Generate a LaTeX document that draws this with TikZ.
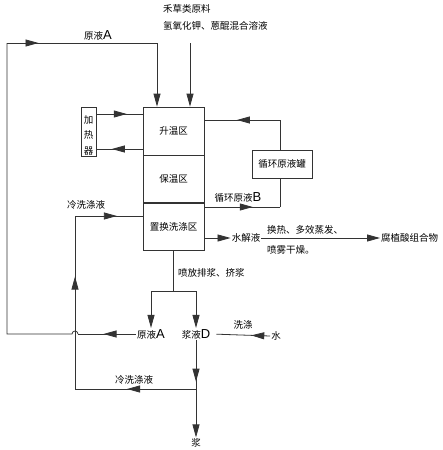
\documentclass[tikz,border=0pt]{standalone}
\usepackage{fontspec}
\setmainfont{Noto Sans CJK SC}
\newfontfamily\latinf{Liberation Sans}
\usetikzlibrary{arrows.meta,decorations.markings}
\newcommand{\LL}[1]{{\latinf\fontsize{13}{13}\selectfont #1}}
\tikzset{
  ln/.style={draw=black!80, line width=0.8pt},
  tip/.style={-{Triangle[length=13pt,width=7pt]}},
  midarr/.style={postaction={decorate},decoration={markings,mark=at position #1 with {\arrow{Triangle[length=13pt,width=7pt]}}}},
  zone/.style={draw=black!80, line width=0.8pt, minimum width=61pt, minimum height=48pt, inner sep=0pt},
  lab/.style={inner sep=1pt, font=\fontsize{9.5}{11}\selectfont},
}
\begin{document}
\begin{tikzpicture}[x=1pt,y=-1pt]
\useasboundingbox (0,0) rectangle (442,450);
% main column
\node[zone] (z1) at (173.5,131) {\fontsize{9.5}{11}\selectfont 升温区};
\node[zone] (z2) at (173.5,179) {\fontsize{9.5}{11}\selectfont 保温区};
\node[zone] (z3) at (173.5,226.5) {\fontsize{9.5}{11}\selectfont 置换洗涤区};
% heater
\node[draw=black!80, line width=0.8pt, minimum width=15pt, minimum height=49pt, inner sep=0pt] (heat) at (88.5,131.5) {};
\node[lab, align=center, font=\fontsize{9.5}{15.5}\selectfont] (heattxt) at (88.5,135) {加\\热\\器};
% tank
\node[draw=black!80, line width=0.8pt, minimum width=60pt, minimum height=28pt, inner sep=0pt, font=\fontsize{9.5}{11}\selectfont] (tank) at (282,164) {循环原液罐};
% labels
\node[lab, anchor=west] (top1) at (162,9) {禾草类原料};
\node[lab, anchor=west] (top2) at (162,26) {氢氧化钾、蒽醌混合溶液};
\node[lab] (lA) at (98,35) {原液\LL{A}};
\node[lab] (lB) at (238,197) {循环原液\LL{B}};
\node[lab] (lcw1) at (86,205) {冷洗涤液};
\node[lab] (hyd) at (246,238) {水解液};
\node[lab, anchor=west] (proc1) at (266,230) {换热、多效蒸发、};
\node[lab, anchor=west] (proc2) at (266,250) {喷雾干燥。};
\node[lab, anchor=west] (prod) at (380,238) {腐植酸组合物};
\node[lab, anchor=west] (spray) at (177,273) {喷放排浆、挤浆};
\node[lab] (rawA) at (151,334) {原液\LL{A}};
\node[lab] (slD) at (196,334) {浆液\LL{D}};
\node[lab] (wash) at (243,325) {洗涤};
\node[lab] (water) at (276,336) {水};
\node[lab] (lcw2) at (134,380) {冷洗涤液};
\node[lab] (slurry) at (196,443) {浆};
% coordinates
\coordinate (hin) at (96,114);
\coordinate (hout) at (96,149);
\coordinate (feed) at (190,43);
\coordinate (L1) at (7,334);
\coordinate (L2) at (7,43);
\coordinate (L3) at (157,43);
\coordinate (hopR) at (78,334);
\coordinate (J) at (196,389);
\coordinate (C1) at (75,389);
\coordinate (C2) at (75,216);
\coordinate (T1) at (280,120);
\coordinate (T2) at (280,207);
\coordinate (B) at (173.5,291);
\coordinate (BL) at (151,291);
\coordinate (BR) at (196,291);
% heater arrows
\draw[ln, midarr=0.66] (hin) -- (hin -| z1.west);
\draw[ln, midarr=0.66] (hout -| z1.west) -- (hout);
% feed
\draw[ln, tip] (feed) -- (feed |- z1.north);
% raw liquor A loop
\draw[ln, midarr=0.56] (rawA.west) -- (hopR);
\draw[ln] (hopR) arc[start angle=0,end angle=180,radius=3pt] -- (L1) -- (L2);
\draw[ln, midarr=0.21] (L2) -- (L3);
\draw[ln, tip] (L3) -- (L3 |- z1.north);
% cold wash loop
\draw[ln, midarr=0.85] (slD.south) -- (J);
\draw[ln, tip] (J) -- (slurry.north);
\draw[ln, midarr=0.57] (J) -- (C1);
\draw[ln, midarr=0.65] (C1) -- (C2);
\draw[ln, midarr=0.62] (C2) -- (C2 -| z3.west);
% tank loop
\draw[ln] (T1 |- tank.north) -- (T1);
\draw[ln, midarr=0.57] (T1) -- (T1 -| z1.east);
\draw[ln, midarr=0.64] (T2 -| z3.east) -- (T2);
\draw[ln] (T2) -- (T2 |- tank.south);
% hydrolysate
\draw[ln, tip] (hyd -| z3.east) -- (hyd.west);
\draw[ln, tip] (hyd.east) -- (prod.west);
% discharge split
\draw[ln] (z3.south) -- (B);
\draw[ln] (BL) -- (BR);
\draw[ln, tip] (BL) -- (rawA.north);
\draw[ln, tip] (BR) -- (slD.north);
% water
\draw[ln, midarr=0.32, shorten >=5pt] (water.west) -- (slD.east);
\end{tikzpicture}
\end{document}
